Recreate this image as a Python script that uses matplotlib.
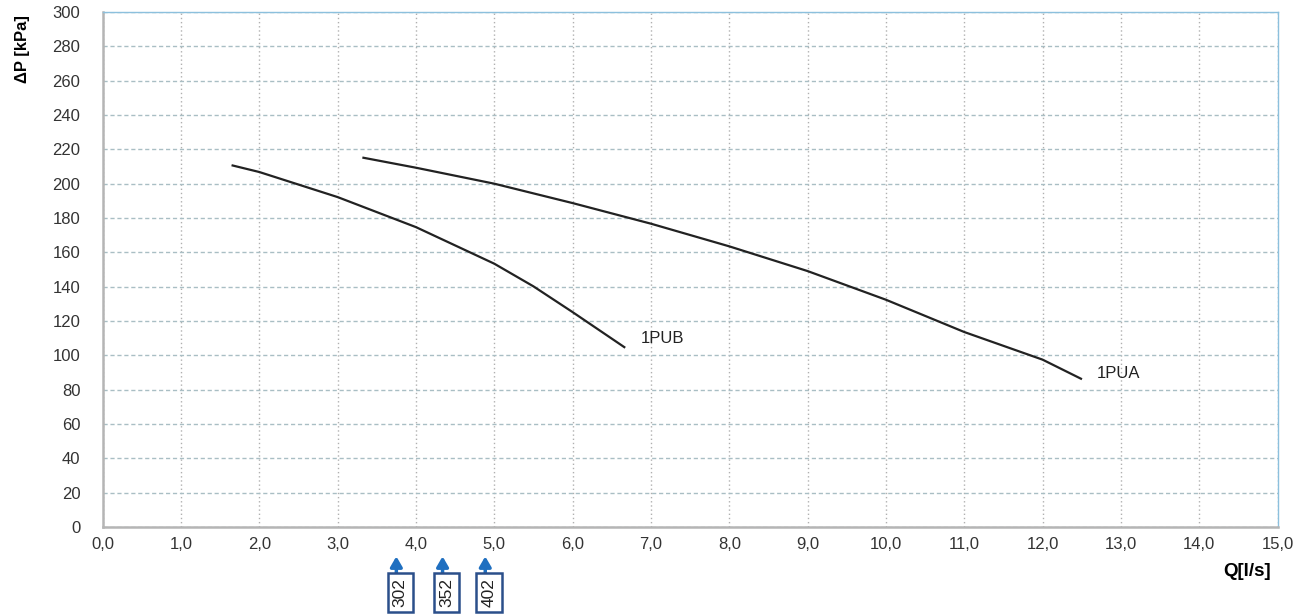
#pump curves, delta P vs flow
import matplotlib.pyplot as plt
from matplotlib.ticker import FuncFormatter
import matplotlib.transforms as mtransforms

plt.rcParams['font.family'] = ['Liberation Sans', 'DejaVu Sans']

# curve 1PUB
q_pub = [1.66, 2.0, 3.0, 4.0, 5.0, 5.5, 6.0, 6.66]
dp_pub = [210.6, 206.8, 192.2, 174.7, 153.4, 140.2, 125.2, 104.8]

# curve 1PUA
q_pua = [3.33, 4.0, 5.0, 6.0, 7.0, 8.0, 9.0, 10.0, 11.0, 12.0, 12.49]
dp_pua = [215.1, 209.3, 200.0, 188.7, 176.7, 163.5, 149.1, 132.4, 113.6, 97.5, 86.4]

# model markers under the x axis
models = ['302', '352', '402']
model_q = [3.75, 4.34, 4.885]

x_ticks = [i for i in range(16)]
y_ticks = [i * 20 for i in range(16)]

fig = plt.figure(figsize=(13.07, 6.15), dpi=100)
ax = fig.add_axes([0.0785, 0.143, 0.899, 0.8375])

ax.plot(q_pub, dp_pub, c="#222222", linewidth=1.6)
ax.plot(q_pua, dp_pua, c="#222222", linewidth=1.6)
ax.text(6.87, 109.8, "1PUB", fontsize=12, va="center", color="#222222")
ax.text(12.69, 89.5, "1PUA", fontsize=12, va="center", color="#222222")

ax.set_xlim(0, 15)
ax.set_ylim(0, 300)
ax.set_xticks(x_ticks)
ax.set_yticks(y_ticks)
ax.xaxis.set_major_formatter(FuncFormatter(lambda v, p: f"{v:.1f}".replace(".", ",")))
ax.tick_params(length=0, labelsize=12, labelcolor="#333333")
ax.tick_params(axis="x", pad=7)
ax.tick_params(axis="y", pad=16)

#grid
ax.yaxis.grid(True, linestyle=(0, (3, 2)), color="#a9bec4", linewidth=1)
ax.xaxis.grid(True, linestyle=(0, (1, 2)), color="#b0b0b0", linewidth=1)
ax.set_axisbelow(True)

for s in ["left", "bottom"]:
    ax.spines[s].set_color("#b5b5b5")
    ax.spines[s].set_linewidth(1.8)
for s in ["top", "right"]:
    ax.spines[s].set_color("#8cc0dd")
    ax.spines[s].set_linewidth(1)

fig.text(0.017, 0.92, "ΔP [kPa]", rotation=90, fontsize=12, fontweight="bold",
         ha="center", va="center")
fig.text(0.954, 0.07, "Q[l/s]", fontsize=13.5, fontweight="bold", ha="center", va="center")

# boxes with arrows
trans = mtransforms.blended_transform_factory(ax.transData, ax.transAxes)
for m, q in zip(models, model_q):
    ax.annotate("", xy=(q, -0.057), xytext=(q, -0.09), xycoords=trans, textcoords=trans,
                arrowprops=dict(arrowstyle="-|>,head_width=0.35,head_length=0.6",
                                color="#1f6fc0", lw=2.5, mutation_scale=10,
                                shrinkA=0, shrinkB=0),
                annotation_clip=False)
    ax.text(q + 0.05, -0.127, m, transform=trans, rotation=90, fontsize=12.5,
            ha="center", va="center", color="#222222", clip_on=False,
            bbox=dict(boxstyle="square,pad=0.3", fc="white", ec="#2b4f8a", lw=1.8))

plt.savefig("out.png", dpi=100)
